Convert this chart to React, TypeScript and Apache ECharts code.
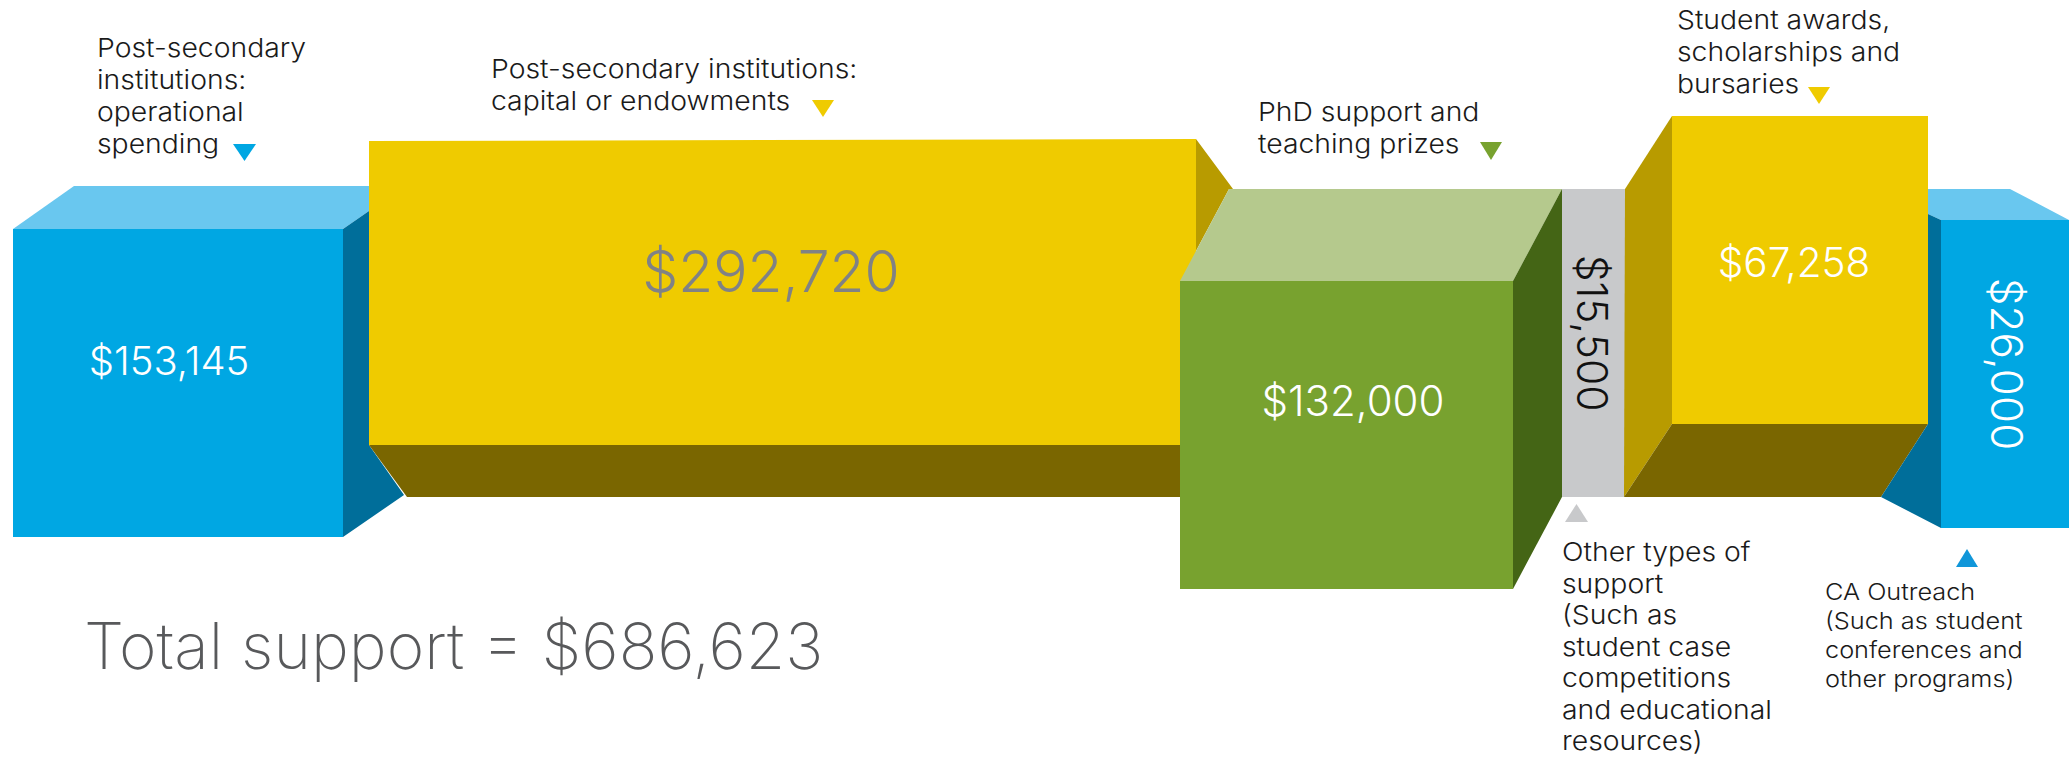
import React, { useEffect, useRef } from "react";
import * as echarts from "echarts";

const categories = [
  "Post-secondary\ninstitutions:\noperational\nspending",
  "Post-secondary institutions:\ncapital or endowments",
  "PhD support and\nteaching prizes",
  "Other types of\nsupport\n(Such as\nstudent case\ncompetitions\nand educational\nresources)",
  "Student awards,\nscholarships and\nbursaries",
  "CA Outreach\n(Such as student\nconferences and\nother programs)",
];
const values = [153145, 292720, 132000, 15500, 67258, 26000];
const totalLabel = "Total support = ";

type Face = { c: string; p: number[][] };
const BLUE = "#00A7E3", BLUE_T = "#69C7EF", BLUE_S = "#006E9A";
const YEL = "#EFCB00", YEL_S = "#B89B00", YEL_B = "#7A6600";
const GRN = "#78A22F", GRN_T = "#B5C98D", GRN_S = "#446515";
const GREY = "#C8C9CB";

// Block outlines in axis units (the infographic is a schematic drawing)
const blockFaces: Face[][] = [
  [
    { c: BLUE_T, p: [[13, 229], [74, 186], [369, 186], [369, 211], [343, 229]] },
    { c: BLUE_S, p: [[343, 229], [369, 211], [369, 445], [404, 495], [343, 537]] },
    { c: BLUE, p: [[13, 229], [343, 229], [343, 537], [13, 537]] },
  ],
  [
    { c: YEL_S, p: [[1196, 139], [1233, 189], [1229, 189], [1180, 281], [1180, 300], [1196, 300]] },
    { c: YEL_B, p: [[369, 445], [1180, 445], [1180, 497], [407, 497]] },
    { c: YEL, p: [[369, 141], [1196, 139], [1196, 445], [369, 445]] },
  ],
  [
    { c: GRN_T, p: [[1180, 281], [1229, 189], [1562, 189], [1513, 281]] },
    { c: GRN_S, p: [[1513, 281], [1562, 189], [1562, 497], [1513, 589]] },
    { c: GRN, p: [[1180, 281], [1513, 281], [1513, 589], [1180, 589]] },
  ],
  [{ c: GREY, p: [[1562, 189], [1625, 189], [1625, 497], [1562, 497]] }],
  [
    { c: YEL_S, p: [[1625, 189], [1672, 116], [1672, 424], [1624, 497]] },
    { c: YEL_B, p: [[1672, 424], [1928, 424], [1881, 497], [1624, 497]] },
    { c: YEL, p: [[1672, 116], [1928, 116], [1928, 424], [1672, 424]] },
  ],
  [
    { c: BLUE_T, p: [[1928, 189], [2010, 189], [2069, 220], [1941, 220], [1928, 214]] },
    { c: BLUE_S, p: [[1928, 214], [1941, 220], [1941, 528], [1881, 497], [1928, 424]] },
    { c: BLUE, p: [[1941, 220], [2069, 220], [2069, 528], [1941, 528]] },
  ],
];

const valueStyle = [
  { x: 169, y: 360, size: 40, color: "#FFFFFF", rot: 0 },
  { x: 771, y: 271, size: 57, color: "#808285", rot: 0 },
  { x: 1353, y: 400, size: 42, color: "#FFFFFF", rot: 0 },
  { x: 1592, y: 333, size: 42.5, color: "#111111", rot: -Math.PI / 2 },
  { x: 1794, y: 262, size: 40.5, color: "#FFFFFF", rot: 0 },
  { x: 2007, y: 364, size: 44, color: "#FFFFFF", rot: -Math.PI / 2 },
];
const labelStyle = [
  { x: 97, y: 32, size: 26, lh: 32, sx: 1.09 },
  { x: 491, y: 53, size: 26, lh: 32, sx: 1.09 },
  { x: 1258, y: 96, size: 26, lh: 32, sx: 1.09 },
  { x: 1562, y: 536.4, size: 26, lh: 31.5, sx: 1.09 },
  { x: 1677, y: 3.5, size: 26, lh: 32, sx: 1.09 },
  { x: 1825, y: 577, size: 23, lh: 29, sx: 1.1 },
];
const markers = [
  { c: "#00A7E3", p: [[233, 144], [256, 144], [244.5, 161]] },
  { c: "#EFCB00", p: [[812, 100], [834, 100], [823, 117]] },
  { c: "#78A22F", p: [[1480, 142], [1502, 142], [1491, 160]] },
  { c: "#C8C9CB", p: [[1565, 522], [1588, 522], [1576.5, 504]] },
  { c: "#EFCB00", p: [[1808, 87], [1830, 87], [1819, 104]] },
  { c: "#1096D9", p: [[1956, 567], [1978, 567], [1967, 549]] },
];

const FONT = "Inter, 'Noto Sans', sans-serif";
const money = (v: number) => "$" + v.toLocaleString("en-US");

export default function App() {
  const ref = useRef<HTMLDivElement>(null);
  useEffect(() => {
    document.body.style.margin = "0";
    document.body.style.overflow = "hidden";
    const chart = echarts.init(ref.current!, undefined, { renderer: "svg" });
    const total = values.reduce((a, b) => a + b, 0);
    chart.setOption({
      animation: false,
      backgroundColor: "#FFFFFF",
      grid: { left: 0, right: 0, top: 0, bottom: 0 },
      xAxis: { type: "value", min: 0, max: 2070, show: false },
      yAxis: { type: "value", min: 0, max: 757, inverse: true, show: false },
      series: [
        {
          type: "custom",
          coordinateSystem: "cartesian2d",
          data: values.map((v, i) => [i, v]),
          silent: true,
          renderItem: (_: any, api: any) => {
            const i = api.value(0);
            const v = api.value(1);
            const s = valueStyle[i];
            const l = labelStyle[i];
            const m = markers[i];
            const pts = (p: number[][]) => p.map((q) => api.coord(q));
            const c = api.coord([s.x, s.y]);
            const lp = api.coord([l.x, l.y]);
            return {
              type: "group",
              children: [
                ...blockFaces[i].map((f) => ({
                  type: "polygon",
                  shape: { points: pts(f.p) },
                  style: { fill: f.c },
                })),
                {
                  type: "text",
                  x: c[0],
                  y: c[1],
                  rotation: s.rot,
                  style: {
                    text: money(v),
                    fill: s.color,
                    font: `300 ${s.size}px ${FONT}`,
                    align: "center",
                    verticalAlign: "middle",
                  },
                },
                {
                  type: "polygon",
                  shape: { points: pts(m.p) },
                  style: { fill: m.c },
                },
                {
                  type: "text",
                  x: lp[0],
                  y: lp[1],
                  scaleX: l.sx,
                  style: {
                    text: categories[i],
                    fill: "#1A1A1A",
                    font: `300 ${l.size}px ${FONT}`,
                    lineHeight: l.lh,
                    align: "left",
                    verticalAlign: "top",
                  },
                },
              ],
            };
          },
        },
      ],
      graphic: [
        {
          type: "text",
          x: 84,
          y: 645,
          style: {
            text: totalLabel + money(total),
            fill: "#58595B",
            font: `200 64px ${FONT}`,
            verticalAlign: "middle",
          },
        },
      ],
    });
    return () => chart.dispose();
  }, []);
  return <div ref={ref} style={{ width: 2070, height: 757 }} />;
}
